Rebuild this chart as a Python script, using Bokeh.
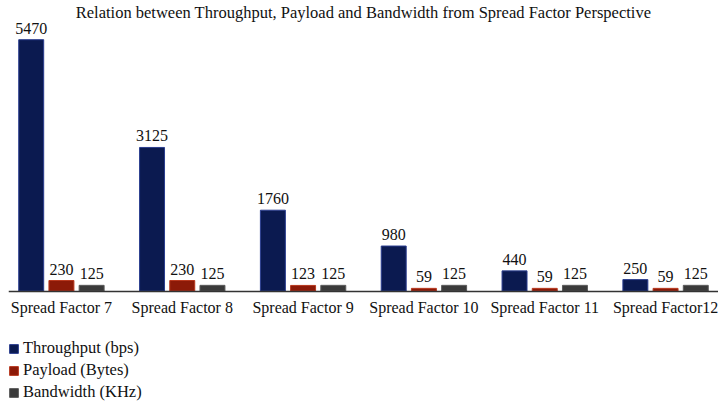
from bokeh.plotting import figure
from bokeh.models import ColumnDataSource, FactorRange, Range1d, CategoricalAxis, Legend, LegendItem, LabelSet
from bokeh.transform import dodge
from bokeh.embed import file_html
from bokeh.resources import INLINE

categories = ["Spread Factor 7", "Spread Factor 8", "Spread Factor 9",
              "Spread Factor 10", "Spread Factor 11", "Spread Factor12"]
throughput = [5470, 3125, 1760, 980, 440, 250]
payload = [230, 230, 123, 59, 59, 59]
bandwidth = [125, 125, 125, 125, 125, 125]
series_names = ["Throughput (bps)", "Payload (Bytes)", "Bandwidth (KHz)"]

FONT = "Liberation Serif"

src = ColumnDataSource(dict(cat=categories, t=throughput, p=payload, b=bandwidth,
                            tl=[str(v) for v in throughput],
                            pl=[str(v) for v in payload],
                            bl=[str(v) for v in bandwidth]))

W, H = 718, 402
px_per_unit = 0.0462
title_h = 19
frame_h = H - title_h
base_from_top = 290 - title_h
y_top = base_from_top / px_per_unit
y_bot = -(frame_h - base_from_top) / px_per_unit
s = 0.062

p = figure(width=W, height=H, output_backend="svg", toolbar_location=None,
           x_range=FactorRange(*categories, range_padding=-s, range_padding_units="absolute"),
           y_range=Range1d(y_bot, y_top),
           min_border=0, min_border_left=8, min_border_right=0,
           x_axis_location=None, y_axis_location=None,
           title="Relation between Throughput, Payload and Bandwidth from Spread Factor Perspective")
p.title.align = "center"
p.title.text_font = FONT
p.title.text_font_size = "16.5px"
p.title.text_font_style = "normal"
p.title.text_color = "#111111"
p.title.standoff = 0
p.outline_line_color = None
p.grid.visible = False
p.background_fill_color = "white"

bw = 25 / 121.0
r1 = p.vbar(x=dodge("cat", -0.25, range=p.x_range), top="t", width=bw, source=src,
            fill_color="#0b1a50", line_color="#2a3d8f", line_width=1)
r2 = p.vbar(x=dodge("cat", 0.0, range=p.x_range), top="p", width=bw, source=src,
            fill_color="#8c1a08", line_color="#b8381e", line_width=1)
r3 = p.vbar(x=dodge("cat", 0.25, range=p.x_range), top="b", width=bw, source=src,
            fill_color="#3a3a3a", line_color="#5a5a5a", line_width=1)

for off, col, lab in [(-0.25, "t", "tl"), (0.0, "p", "pl"), (0.25, "b", "bl")]:
    ls = LabelSet(x=dodge("cat", off, range=p.x_range), y=col, text=lab, source=src,
                  text_align="center", text_baseline="bottom", y_offset=6,
                  text_font=FONT, text_font_size="16px", text_color="#111111")
    p.add_layout(ls)

ax = CategoricalAxis(fixed_location=0)
ax.axis_line_color = "#333333"
ax.axis_line_width = 1.5
ax.major_tick_line_color = None
ax.minor_tick_line_color = None
ax.major_label_text_font = FONT
ax.major_label_text_font_size = "16px"
ax.major_label_text_color = "#111111"
ax.major_label_standoff = 2
p.add_layout(ax, "below")

legend = Legend(items=[LegendItem(label=series_names[0], renderers=[r1]),
                       LegendItem(label=series_names[1], renderers=[r2]),
                       LegendItem(label=series_names[2], renderers=[r3])],
                location=(0, 0), orientation="vertical",
                label_text_font=FONT, label_text_font_size="16.5px", label_text_color="#111111",
                glyph_width=11, glyph_height=11, spacing=2, padding=0, margin=0,
                border_line_color=None, background_fill_alpha=0, label_standoff=4)
p.add_layout(legend)

open("out.html", "w").write(file_html(p, INLINE))
